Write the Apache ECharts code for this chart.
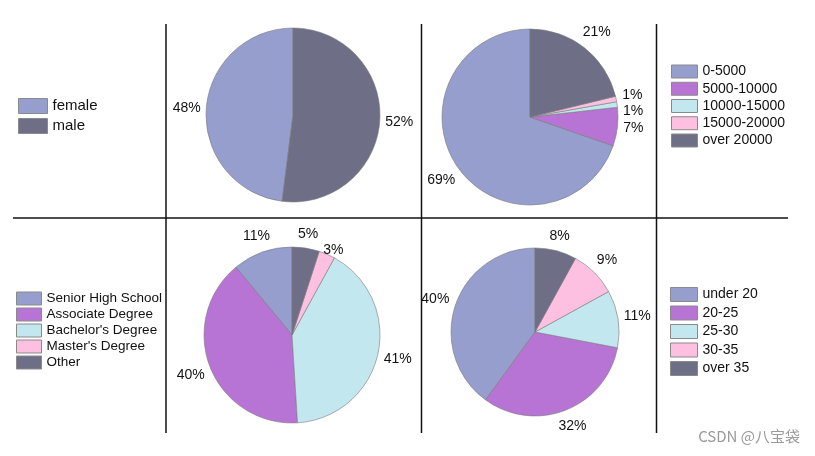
<!DOCTYPE html>
<html>
<head>
<meta charset="utf-8">
<script src="https://cdn.jsdelivr.net/npm/echarts@6/dist/echarts.min.js"></script>
<style>html,body{margin:0;padding:0;background:#fff;}#c{width:815px;height:456px;}</style>
</head>
<body>
<div id="c"></div>
<script>
const genderNames = ['female', 'male'];
const genderValues = [48, 52];
const incomeNames = ['0-5000', '5000-10000', '10000-15000', '15000-20000', 'over 20000'];
const incomeValues = [69, 7, 1, 1, 21];
const eduNames = ['Senior High School', 'Associate Degree', "Bachelor's Degree", "Master's Degree", 'Other'];
const eduValues = [11, 40, 41, 3, 5];
const ageNames = ['under 20', '20-25', '25-30', '30-35', 'over 35'];
const ageValues = [40, 32, 11, 9, 8];

const palette = ['#959ECD', '#B874D4', '#C3E7EF', '#FDC0E1', '#6E6E87'];
const genderColors = ['#959ECD', '#6E6E87'];
const FONT = 'Liberation Sans, Arial, Helvetica, sans-serif';
const LABEL_SIZE = 14;

const measureCtx = document.createElement('canvas').getContext('2d');
measureCtx.font = LABEL_SIZE + 'px ' + FONT;

function toData(names, values, colors) {
  return names.map((n, i) => ({ name: n, value: values[i], itemStyle: { color: colors[i] } }));
}

// label positions: placed just outside the slice along its mid angle (from the data),
// then separated vertically when two labels on the same side collide
function labelPositions(values, center, radius) {
  const total = values.reduce((a, b) => a + b, 0);
  const gap = 5, h = 16;
  let cum = 0;
  const pos = values.map((v, i) => {
    const a = (90 + (cum + v / 2) / total * 360) * Math.PI / 180;
    cum += v;
    const dx = Math.cos(a), dy = -Math.sin(a);
    const w = measureCtx.measureText(v + '%').width;
    const D = radius + gap + Math.abs(dx) * w / 2 + Math.abs(dy) * h / 2;
    return { i: i, x: center[0] + D * dx, y: center[1] + D * dy, side: dx >= 0 ? 1 : -1 };
  });
  [1, -1].forEach(side => {
    const list = pos.filter(p => p.side === side).sort((a, b) => a.y - b.y);
    for (let k = 1; k < list.length; k++) {
      if (list[k].y - list[k - 1].y < h && Math.abs(list[k].x - list[k - 1].x) < 30) {
        list[k].y = list[k - 1].y + h;
      }
    }
  });
  return pos;
}

function pieSeries(names, values, colors, center, radius) {
  const pos = labelPositions(values, center, radius);
  return {
    type: 'pie',
    center: center,
    radius: radius,
    clockwise: false,
    startAngle: 90,
    avoidLabelOverlap: false,
    animation: false,
    itemStyle: { borderColor: '#7a7a7a', borderWidth: 0.6 },
    label: { show: true, position: 'outside', formatter: '{c}%', color: '#111', fontSize: LABEL_SIZE, fontFamily: FONT },
    labelLine: { show: false, length: 0, length2: 0 },
    labelLayout: function (p) {
      const q = pos[p.dataIndex];
      return { x: q.x, y: q.y, align: 'center', verticalAlign: 'middle' };
    },
    emphasis: { disabled: true },
    data: toData(names, values, colors)
  };
}

function legend(names, left, top, w, h, gap, fs) {
  return {
    orient: 'vertical', left: left, top: top, data: names, padding: 0,
    icon: 'rect', itemWidth: w, itemHeight: h, itemGap: gap,
    selectedMode: false,
    itemStyle: { borderColor: '#8a8a8a', borderWidth: 1 },
    textStyle: { color: '#111', fontSize: fs, lineHeight: h, fontFamily: FONT }
  };
}

const lineStyle = { stroke: '#111', lineWidth: 1.5 };

const chart = echarts.init(document.getElementById('c'), null, { renderer: 'canvas' });
chart.setOption({
  backgroundColor: '#fff',
  animation: false,
  legend: [
    legend(genderNames, 18, 98, 29, 15, 4, 15),
    legend(incomeNames, 671, 64.5, 26, 13, 3.25, 14),
    legend(eduNames, 16, 291.5, 25, 13, 2, 13.5),
    legend(ageNames, 670, 287, 27, 14, 3.5, 14)
  ],
  series: [
    pieSeries(genderNames, genderValues, genderColors, [293, 115], 87),
    pieSeries(incomeNames, incomeValues, palette, [530, 117], 88),
    pieSeries(eduNames, eduValues, palette, [292, 335], 88),
    pieSeries(ageNames, ageValues, palette, [535, 332], 84)
  ],
  graphic: [
    { type: 'line', shape: { x1: 166, y1: 24, x2: 166, y2: 433 }, style: lineStyle, silent: true },
    { type: 'line', shape: { x1: 421.5, y1: 24, x2: 421.5, y2: 433 }, style: lineStyle, silent: true },
    { type: 'line', shape: { x1: 656.5, y1: 24, x2: 656.5, y2: 433 }, style: lineStyle, silent: true },
    { type: 'line', shape: { x1: 13, y1: 218, x2: 788, y2: 218 }, style: lineStyle, silent: true },
    { type: 'text', right: 15, top: 429, silent: true,
      style: { text: 'CSDN @八宝袋', fill: '#9a9a9a', fontSize: 15, fontFamily: 'Noto Sans CJK SC, sans-serif' } }
  ]
});
</script>
</body>
</html>
